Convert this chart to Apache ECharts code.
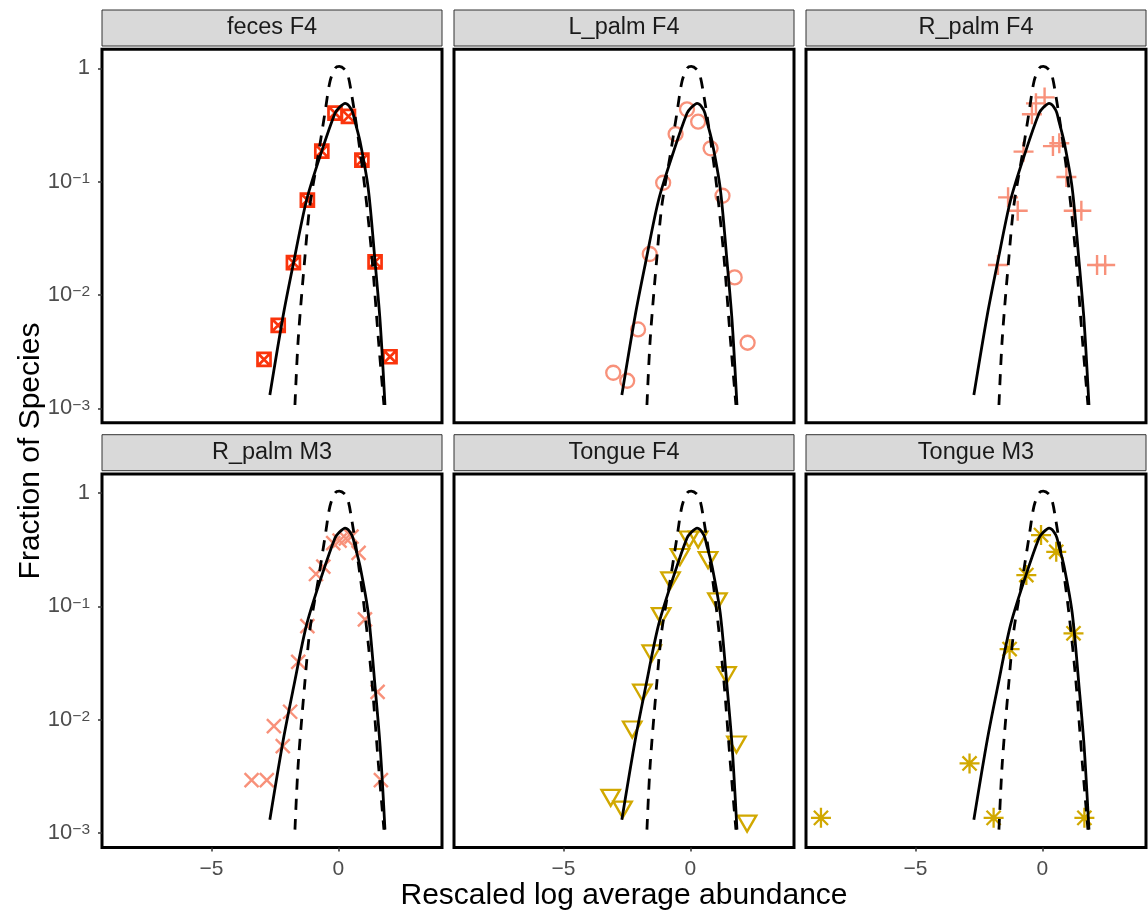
<!DOCTYPE html>
<html>
<head>
<meta charset="utf-8">
<title>Species abundance distributions</title>
<script src="https://cdn.jsdelivr.net/npm/echarts@6.0.0/dist/echarts.min.js"></script>
<style>
  html, body { margin: 0; padding: 0; background: #ffffff; }
  #chart { width: 1148px; height: 917px; }
</style>
</head>
<body>
<div id="chart"></div>
<script>
// ---- data -------------------------------------------------------------
const panelNames = ['feces F4', 'L_palm F4', 'R_palm F4', 'R_palm M3', 'Tongue F4', 'Tongue M3'];

const fecesF4X = [-2.93, -2.37, -1.77, -1.22, -0.65, -0.13, 0.40, 0.93, 1.45, 2.04];
const fecesF4Y = [0.0027, 0.0054, 0.0193, 0.0688, 0.186, 0.403, 0.377, 0.155, 0.0196, 0.00285];

const lPalmF4X = [-3.04, -2.49, -2.06, -1.60, -1.07, -0.58, -0.13, 0.31, 0.80, 1.27, 1.75, 2.26];
const lPalmF4Y = [0.00206, 0.00175, 0.00497, 0.0230, 0.0978, 0.263, 0.435, 0.338, 0.197, 0.0751, 0.0143, 0.00379];

const rPalmF4X = [-1.75, -1.35, -0.97, -0.74, -0.41, -0.25, 0.09, 0.42, 0.67, 0.95, 1.24, 1.54, 2.16, 2.48];
const rPalmF4Y = [0.0184, 0.0727, 0.0554, 0.184, 0.393, 0.491, 0.554, 0.206, 0.218, 0.110, 0.0554, 0.0554, 0.0184, 0.0184];

const rPalmM3X = [-3.42, -2.82, -2.54, -2.19, -1.90, -1.58, -1.22, -0.88, -0.59, -0.20, 0.05, 0.30, 0.52, 0.80, 1.05, 1.55, 1.68];
const rPalmM3Y = [0.00293, 0.00293, 0.00878, 0.00585, 0.01175, 0.0324, 0.067, 0.193, 0.224, 0.362, 0.381, 0.397, 0.413, 0.297, 0.0768, 0.0176, 0.00293];

const tongueF4X = [-3.14, -2.67, -2.29, -1.89, -1.52, -1.15, -0.78, -0.41, -0.05, 0.31, 0.70, 1.07, 1.43, 1.82, 2.24];
const tongueF4Y = [0.00216, 0.0017, 0.00865, 0.0183, 0.0406, 0.0867, 0.179, 0.288, 0.411, 0.411, 0.271, 0.117, 0.0261, 0.00638, 0.00128];

const tongueM3X = [-8.73, -2.87, -1.92, -1.29, -0.63, -0.05, 0.55, 1.23, 1.66];
const tongueM3Y = [0.00136, 0.00411, 0.00136, 0.042, 0.189, 0.426, 0.303, 0.0578, 0.00136];

// fitted distribution (solid line), shared by all panels
const fitX = [-2.70, -2.17, -1.77, -1.25, -0.66, -0.13, 0.03, 0.27, 0.53, 0.66, 0.86, 1.18, 1.45, 1.65, 1.84];
const fitY = [0.00131, 0.00665, 0.019, 0.0689, 0.184, 0.401, 0.449, 0.491, 0.428, 0.338, 0.225, 0.0873, 0.0196, 0.0058, 0.00107];

// lognormal reference (dashed line), shared by all panels
const refX = [-1.71, -1.58, -1.31, -1.12, -0.79, -0.52, -0.33, -0.13, 0.04, 0.33, 0.53, 0.79, 1.05, 1.32, 1.58, 1.80];
const refY = [0.00107, 0.0041, 0.0225, 0.062, 0.172, 0.414, 0.762, 1.0, 1.04, 0.93, 0.58, 0.241, 0.087, 0.0225, 0.0041, 0.00107];

const xTickValues = [-5, 0];

// ---- layout & style ---------------------------------------------------
const FONT = '"Liberation Sans", Arial, Helvetica, sans-serif';
const PANEL_LEFT = [102, 454, 806];
const PANEL_TOP = [49.3, 474];
const PANEL_W = 340;
const PANEL_H = 373.4;
const STRIP_H = 36;
const STRIP_GAP = 3.3;
const X_MIN = -9.32, X_MAX = 4.09;
const Y_MIN = Math.pow(10, -3.127), Y_MAX = Math.pow(10, 0.168);

const RED = '#FA340C';
const SALMON = '#F8917A';
const GOLD = '#D1A800';

const SYM_SQUARE_CROSS = 'path://M0,0H10V10H0ZM0,0L10,10M10,0L0,10';
const SYM_PLUS = 'path://M5,0V10M0,5H10';
const SYM_TIMES = 'path://M0,0L10,10M10,0L0,10';
const SYM_ASTERISK = 'path://M9.2,0V18.4M0,9.2H18.4M2.7,2.7L15.7,15.7M15.7,2.7L2.7,15.7';
const SYM_TRIANGLE_DOWN = 'path://M0,0L17.5,0L8.75,15.2Z';

const panelData = [
  { x: fecesF4X, y: fecesF4Y },
  { x: lPalmF4X, y: lPalmF4Y },
  { x: rPalmF4X, y: rPalmF4Y },
  { x: rPalmM3X, y: rPalmM3Y },
  { x: tongueF4X, y: tongueF4Y },
  { x: tongueM3X, y: tongueM3Y }
];

const panelMarks = [
  { symbol: SYM_SQUARE_CROSS, size: 13, color: RED, width: 2.7 },
  { symbol: 'circle', size: 14, color: SALMON, width: 2.3 },
  { symbol: SYM_PLUS, size: 20, color: SALMON, width: 2.4 },
  { symbol: SYM_TIMES, size: 14, color: SALMON, width: 2.4 },
  { symbol: SYM_TRIANGLE_DOWN, size: [18.5, 16], color: GOLD, width: 2.3, offset: [0, 2.7] },
  { symbol: SYM_ASTERISK, size: 20, color: GOLD, width: 2.3 }
];

function zip(xs, ys) {
  return xs.map((v, i) => [v, ys[i]]);
}

function xLabel(v) {
  return v < 0 ? '\u2212' + Math.abs(v) : String(v);
}

function yLabel(v) {
  const k = Math.round(Math.log10(v));
  if (Math.abs(Math.log10(v) - k) > 1e-6) return '';
  if (k === 0) return '{one|1}';
  return '{b|10}{s|\u2212' + (-k) + '}';
}

const grids = [], xAxes = [], yAxes = [], series = [], graphics = [];

for (let i = 0; i < 6; i++) {
  const row = Math.floor(i / 3);
  const col = i % 3;
  const left = PANEL_LEFT[col];
  const top = PANEL_TOP[row];

  grids.push({
    left: left, top: top, width: PANEL_W, height: PANEL_H,
    show: true, backgroundColor: '#ffffff',
    borderColor: '#000000', borderWidth: 3,
    containLabel: false, outerBoundsMode: 'none'
  });

  xAxes.push({
    type: 'value', gridIndex: i, min: X_MIN, max: X_MAX, position: 'bottom',
    splitLine: { show: false },
    axisLine: { show: false, onZero: false },
    axisTick: {
      show: row === 1, length: 4, customValues: xTickValues,
      lineStyle: { color: '#333333', width: 1.5 }
    },
    axisLabel: {
      show: row === 1, customValues: xTickValues, formatter: xLabel,
      fontSize: 21, color: '#4D4D4D', fontFamily: FONT, margin: 11
    }
  });

  yAxes.push({
    type: 'log', logBase: 10, gridIndex: i, min: Y_MIN, max: Y_MAX, position: 'left',
    splitLine: { show: false },
    axisLine: { show: false, onZero: false },
    axisTick: {
      show: col === 0, length: 4,
      lineStyle: { color: '#333333', width: 1.5 }
    },
    axisLabel: {
      show: col === 0, formatter: yLabel,
      showMinLabel: false, showMaxLabel: false,
      margin: 12, color: '#4D4D4D', fontFamily: FONT,
      rich: {
        one: { fontSize: 22, color: '#4D4D4D', fontFamily: FONT },
        b: { fontSize: 22, lineHeight: 22, color: '#4D4D4D', fontFamily: FONT, verticalAlign: 'bottom' },
        s: { fontSize: 15.5, lineHeight: 15.5, color: '#4D4D4D', fontFamily: FONT, verticalAlign: 'top', padding: [0, 0, 10.5, 0] }
      }
    }
  });

  const mark = panelMarks[i];
  series.push({
    type: 'scatter', xAxisIndex: i, yAxisIndex: i,
    data: zip(panelData[i].x, panelData[i].y),
    symbol: mark.symbol, symbolSize: mark.size,
    symbolOffset: mark.offset || [0, 0],
    itemStyle: { color: 'rgba(0,0,0,0)', borderColor: mark.color, borderWidth: mark.width, opacity: 1 },
    z: 2, silent: true
  });

  series.push({
    type: 'line', xAxisIndex: i, yAxisIndex: i,
    data: zip(fitX, fitY),
    showSymbol: false, smooth: 0.3,
    lineStyle: { color: '#000000', width: 2.8 },
    z: 3, silent: true
  });

  series.push({
    type: 'line', xAxisIndex: i, yAxisIndex: i,
    data: zip(refX, refY),
    showSymbol: false, smooth: 0.3,
    lineStyle: { color: '#000000', width: 2.8, type: [11, 9], cap: 'butt' },
    z: 4, silent: true
  });

  // facet strip
  const stripTop = top - STRIP_GAP - STRIP_H;
  graphics.push({
    type: 'rect', silent: true, z: 10,
    shape: { x: left, y: stripTop, width: PANEL_W, height: STRIP_H },
    style: { fill: '#D9D9D9', stroke: '#333333', lineWidth: 1 }
  });
  graphics.push({
    type: 'text', silent: true, z: 11,
    x: left + PANEL_W / 2, y: stripTop + STRIP_H / 2,
    style: {
      text: panelNames[i], fill: '#1A1A1A',
      fontSize: 23.5, fontFamily: FONT,
      align: 'center', verticalAlign: 'middle',
      textAlign: 'center', textVerticalAlign: 'middle'
    }
  });
}

// axis titles
graphics.push({
  type: 'text', silent: true, z: 11,
  x: 624, y: 896,
  style: {
    text: 'Rescaled log average abundance', fill: '#000000',
    fontSize: 30, fontFamily: FONT,
    align: 'center', verticalAlign: 'middle',
    textAlign: 'center', textVerticalAlign: 'middle'
  }
});
graphics.push({
  type: 'text', silent: true, z: 11,
  x: 31, y: 451, rotation: Math.PI / 2,
  style: {
    text: 'Fraction of Species', fill: '#000000',
    fontSize: 30, fontFamily: FONT,
    align: 'center', verticalAlign: 'middle',
    textAlign: 'center', textVerticalAlign: 'middle'
  }
});

const chart = echarts.init(document.getElementById('chart'), null, { renderer: 'canvas', width: 1148, height: 917 });
chart.setOption({
  animation: false,
  backgroundColor: '#ffffff',
  grid: grids,
  xAxis: xAxes,
  yAxis: yAxes,
  series: series,
  graphic: { elements: graphics }
});
</script>
</body>
</html>
